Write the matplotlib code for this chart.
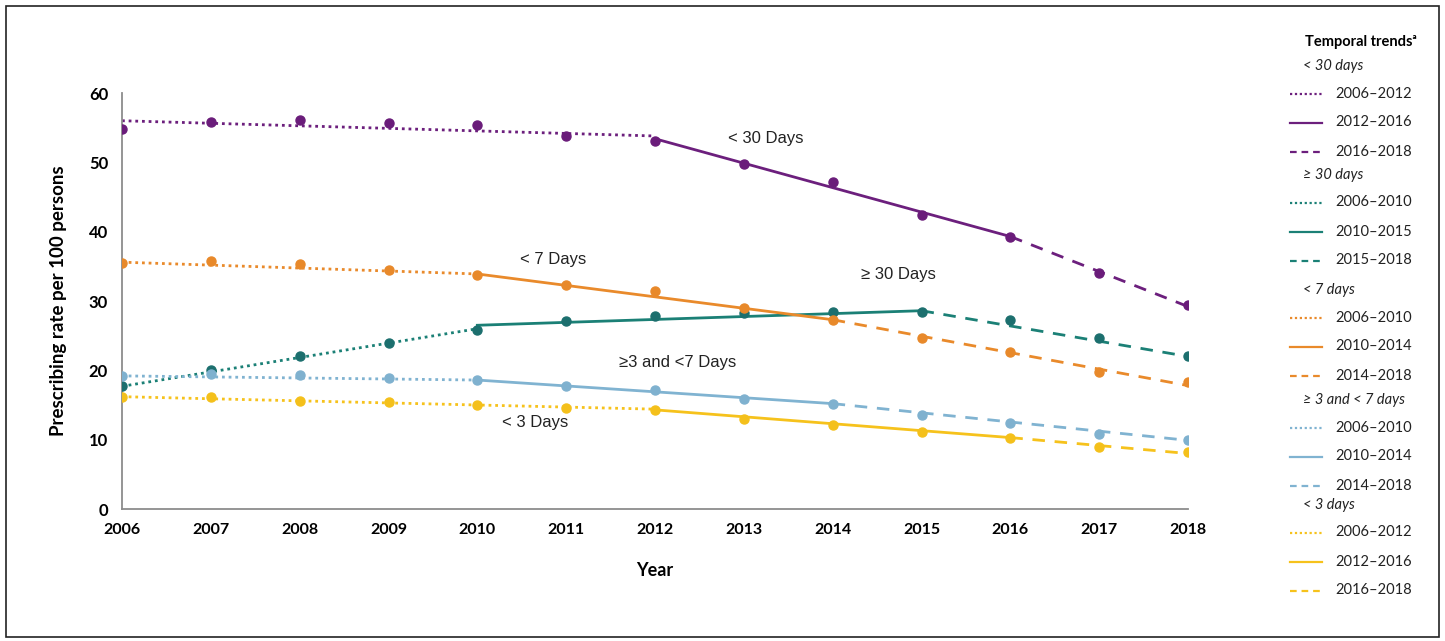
import numpy as np
import matplotlib.pyplot as plt
from matplotlib.patches import Rectangle

plt.rcParams['font.family'] = ['Lato', 'DejaVu Sans']

years = np.arange(2006, 2019)

# Observed prescribing rates per 100 persons
lt30 = [54.8, 55.8, 56.1, 55.7, 55.4, 53.8, 53.1, 49.8, 47.2, 42.4, 39.2, 34.1, 29.4]
ge30 = [17.7, 20.1, 22.1, 24.0, 25.8, 27.1, 27.8, 28.3, 28.4, 28.4, 27.3, 24.7, 22.1]
lt7 = [35.5, 35.8, 35.4, 34.5, 33.8, 32.3, 31.5, 29.0, 27.3, 24.7, 22.7, 19.8, 18.3]
ge3lt7 = [19.2, 19.5, 19.3, 18.9, 18.6, 17.7, 17.2, 15.9, 15.2, 13.6, 12.4, 10.8, 10.0]
lt3 = [16.2, 16.2, 15.6, 15.4, 15.0, 14.6, 14.3, 13.0, 12.1, 11.1, 10.2, 8.9, 8.2]

# Joinpoint trend segments: (start year, end year, start value, end value)
trend_lt30 = [(2006, 2012, 56.0, 53.8), (2012, 2016, 53.4, 39.3), (2016, 2018, 39.3, 29.2)]
trend_ge30 = [(2006, 2010, 17.7, 26.0), (2010, 2015, 26.5, 28.6), (2015, 2018, 28.6, 22.0)]
trend_lt7 = [(2006, 2010, 35.6, 33.9), (2010, 2014, 33.9, 27.3), (2014, 2018, 27.3, 17.8)]
trend_ge3lt7 = [(2006, 2010, 19.2, 18.6), (2010, 2014, 18.6, 15.2), (2014, 2018, 15.2, 9.9)]
trend_lt3 = [(2006, 2012, 16.2, 14.4), (2012, 2016, 14.3, 10.3), (2016, 2018, 10.3, 8.0)]

group_names = ['< 30 days', '\u2265 30 days', '< 7 days', '\u2265 3 and < 7 days', '< 3 days']
colors = ['#6c1f7d', '#1b8076', '#e98a2b', '#80b3d1', '#f6c21c']
point_colors = ['#6a1c7a', '#1c6f6e', '#e8892a', '#7fb1cf', '#f4c01b']
rates = [lt30, ge30, lt7, ge3lt7, lt3]
trends = [trend_lt30, trend_ge30, trend_lt7, trend_ge3lt7, trend_lt3]

series_labels = ['< 30 Days', '< 7 Days', '\u2265 30 Days', '\u22653 and <7 Days', '< 3 Days']
label_x = [2013.25, 2010.85, 2014.74, 2012.25, 2010.65]
label_y = [53.5, 36.0, 33.8, 21.2, 12.5]

seg_styles = [(0, (1, 1.4)), '-', (0, (4.5, 3.5))]
leg_styles = [(0, (1, 1.2)), '-', (0, (3, 2.2))]

fig = plt.figure(figsize=(14.45, 6.41), dpi=100)
ax = fig.add_axes([122 / 1445, 1 - 509 / 641, (1188 - 122) / 1445, (509 - 93) / 641])

for vals, segs, c, pc in zip(rates, trends, colors, point_colors):
    for (x0, x1, y0, y1), ls in zip(segs, seg_styles):
        ax.plot([x0, x1], [y0, y1], color=c, lw=2.0, ls=ls, zorder=2)
    ax.plot(years, vals, 'o', color=pc, ms=6.5, zorder=3)

for txt, x, y in zip(series_labels, label_x, label_y):
    ax.text(x, y, txt, ha='center', va='center', fontsize=12,
            family='Liberation Sans', color='#222222')

ax.set_xlim(2006, 2018)
ax.set_ylim(0, 60)
ax.set_xticks(years)
ax.set_yticks(np.arange(0, 61, 10))
ax.tick_params(length=0, labelsize=11.5, pad=10)
ax.tick_params(axis='y', pad=10, labelsize=12)
for lab in ax.get_xticklabels() + ax.get_yticklabels():
    lab.set_fontweight('bold')
for s in ['top', 'right']:
    ax.spines[s].set_visible(False)
for s in ['left', 'bottom']:
    ax.spines[s].set_color('#8c8c8c')
    ax.spines[s].set_linewidth(1.3)
ax.set_xlabel('Year', fontsize=13, fontweight='bold', labelpad=18)
ax.set_ylabel('Prescribing rate per 100 persons', fontsize=13.5, fontweight='bold', labelpad=16)

# Legend panel and border drawn on an overlay in pixel units
lax = fig.add_axes([0, 0, 1, 1], facecolor='none')
lax.set_xlim(0, 1445)
lax.set_ylim(641, 0)
lax.axis('off')
lax.add_patch(Rectangle((6, 6), 1433, 631, fill=False, ec='#222222', lw=1.2))

lax.text(1305, 42, 'Temporal trends\u1d43', fontsize=10.5, fontweight='bold', va='center')
leg_periods = [['2006\u20132012', '2012\u20132016', '2016\u20132018'],
               ['2006\u20132010', '2010\u20132015', '2015\u20132018'],
               ['2006\u20132010', '2010\u20132014', '2014\u20132018'],
               ['2006\u20132010', '2010\u20132014', '2014\u20132018'],
               ['2006\u20132012', '2012\u20132016', '2016\u20132018']]
header_y = [66, 175, 290, 400, 505]
for g, (name, periods, c) in enumerate(zip(group_names, leg_periods, colors)):
    hy = header_y[g]
    lax.text(1303, hy, name, fontsize=10.5, style='italic', va='center', color='#222222')
    for k, (p, ls) in enumerate(zip(periods, leg_styles)):
        ry = hy + 27.5 + 29 * k
        lax.plot([1290, 1322], [ry, ry], color=c, lw=1.6, ls=ls)
        lax.text(1335, ry, p, fontsize=10.5, va='center', color='#222222')

fig.savefig('out.png', dpi=100)
